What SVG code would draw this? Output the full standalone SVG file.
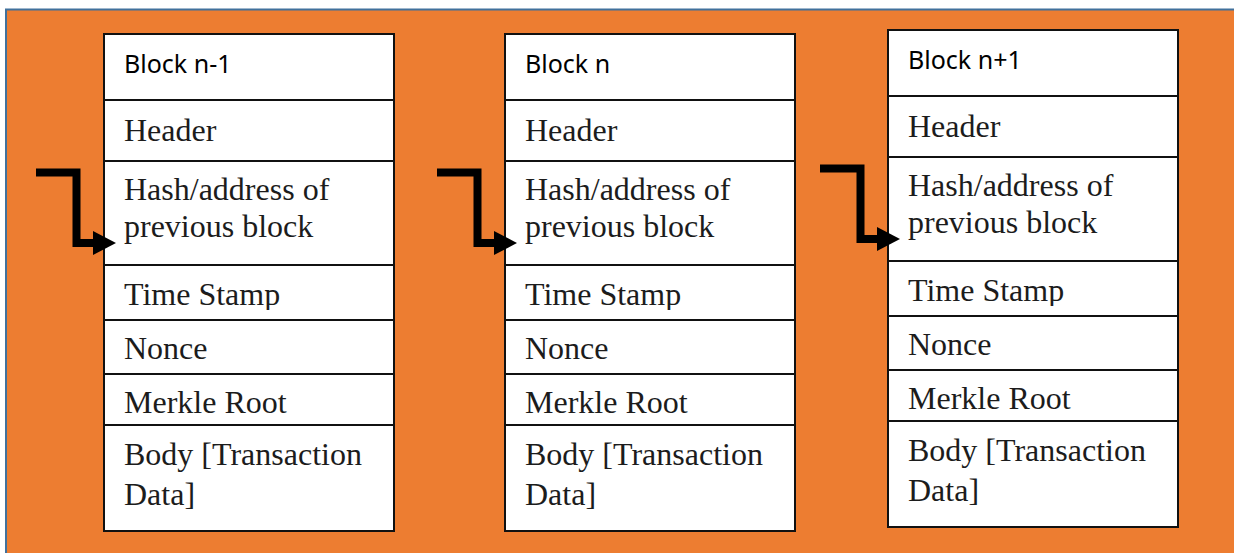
<svg xmlns="http://www.w3.org/2000/svg" width="1234" height="553" viewBox="0 0 1234 553">
  <style>
    .frame { fill: #ED7D31; stroke: #41719C; stroke-width: 2; }
    .cell { fill: #ffffff; stroke: #111111; stroke-width: 2; }
    .rule { stroke: #111111; stroke-width: 2; }
    .title { font-family: "Noto Sans", "Open Sans", sans-serif; font-size: 25px; fill: #000000; }
    .field { font-family: "Liberation Serif", "Times New Roman", serif; font-size: 32px; fill: #1c1c1c; }
    .link { fill: none; stroke: #000000; stroke-width: 8; stroke-linejoin: miter; }
  </style>
  <defs>
    <marker id="head" markerUnits="userSpaceOnUse" markerWidth="24" markerHeight="26" refX="0" refY="12" orient="auto" overflow="visible">
      <path d="M0,0 L23,12 L0,24 Z" fill="#000000"/>
    </marker>
    <!-- the timestamp row clips its descenders -->
    <clipPath id="stampClip">
      <rect x="104" y="266" width="290" height="44"/>
    </clipPath>
  </defs>

  <rect class="frame" x="6" y="9.5" width="1240" height="560"/>

  <!-- Block n-1 -->
  <g id="block-n-minus-1">
    <rect class="cell" x="104" y="34" width="290" height="497"/>
    <line class="rule" x1="104" y1="100" x2="394" y2="100"/>
    <line class="rule" x1="104" y1="161" x2="394" y2="161"/>
    <line class="rule" x1="104" y1="265" x2="394" y2="265"/>
    <line class="rule" x1="104" y1="320" x2="394" y2="320"/>
    <line class="rule" x1="104" y1="374" x2="394" y2="374"/>
    <line class="rule" x1="104" y1="425" x2="394" y2="425"/>
    <text class="title" x="124" y="73">Block n-1</text>
    <text class="field" x="124" y="141">Header</text>
    <text class="field" x="124" y="200">Hash/address of</text>
    <text class="field" x="124" y="237">previous block</text>
    <text class="field" x="124" y="305" clip-path="url(#stampClip)">Time Stamp</text>
    <text class="field" x="124" y="359">Nonce</text>
    <text class="field" x="124" y="413">Merkle Root</text>
    <text class="field" x="124" y="465">Body [Transaction</text>
    <text class="field" x="124" y="505">Data]</text>
  </g>

  <!-- Block n -->
  <g id="block-n" transform="translate(401,0)">
    <rect class="cell" x="104" y="34" width="290" height="497"/>
    <line class="rule" x1="104" y1="100" x2="394" y2="100"/>
    <line class="rule" x1="104" y1="161" x2="394" y2="161"/>
    <line class="rule" x1="104" y1="265" x2="394" y2="265"/>
    <line class="rule" x1="104" y1="320" x2="394" y2="320"/>
    <line class="rule" x1="104" y1="374" x2="394" y2="374"/>
    <line class="rule" x1="104" y1="425" x2="394" y2="425"/>
    <text class="title" x="124" y="73">Block n</text>
    <text class="field" x="124" y="141">Header</text>
    <text class="field" x="124" y="200">Hash/address of</text>
    <text class="field" x="124" y="237">previous block</text>
    <text class="field" x="124" y="305" clip-path="url(#stampClip)">Time Stamp</text>
    <text class="field" x="124" y="359">Nonce</text>
    <text class="field" x="124" y="413">Merkle Root</text>
    <text class="field" x="124" y="465">Body [Transaction</text>
    <text class="field" x="124" y="505">Data]</text>
  </g>

  <!-- Block n+1 -->
  <g id="block-n-plus-1" transform="translate(784,-4)">
    <rect class="cell" x="104" y="34" width="290" height="497"/>
    <line class="rule" x1="104" y1="100" x2="394" y2="100"/>
    <line class="rule" x1="104" y1="161" x2="394" y2="161"/>
    <line class="rule" x1="104" y1="265" x2="394" y2="265"/>
    <line class="rule" x1="104" y1="320" x2="394" y2="320"/>
    <line class="rule" x1="104" y1="374" x2="394" y2="374"/>
    <line class="rule" x1="104" y1="425" x2="394" y2="425"/>
    <text class="title" x="124" y="73">Block n+1</text>
    <text class="field" x="124" y="141">Header</text>
    <text class="field" x="124" y="200">Hash/address of</text>
    <text class="field" x="124" y="237">previous block</text>
    <text class="field" x="124" y="305" clip-path="url(#stampClip)">Time Stamp</text>
    <text class="field" x="124" y="359">Nonce</text>
    <text class="field" x="124" y="413">Merkle Root</text>
    <text class="field" x="124" y="465">Body [Transaction</text>
    <text class="field" x="124" y="505">Data]</text>
  </g>

  <!-- links into each block's previous-hash field -->
  <g id="connectors">
    <path class="link" d="M36,172.5 H76.5 V243 H93" marker-end="url(#head)"/>
    <path class="link" d="M437,172.5 H477.5 V243 H494" marker-end="url(#head)"/>
    <path class="link" d="M820,168.5 H860.5 V239 H877" marker-end="url(#head)"/>
  </g>
</svg>
